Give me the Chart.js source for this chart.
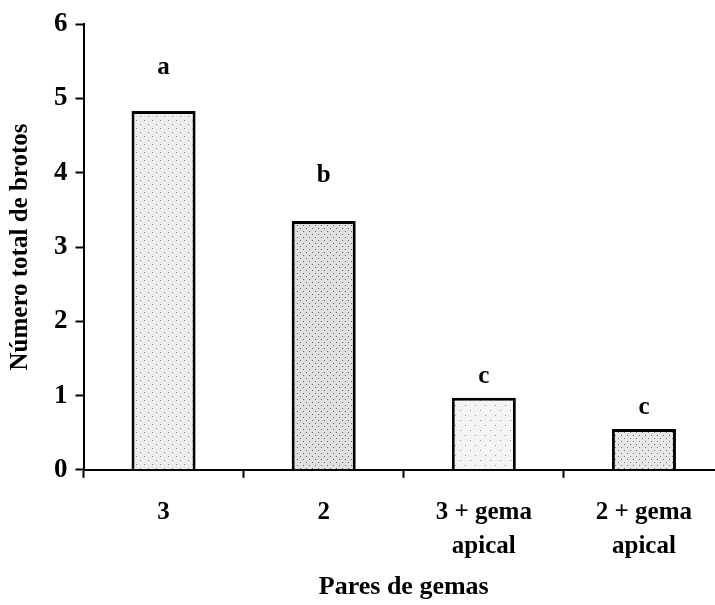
<!DOCTYPE html>
<html>
<head>
<meta charset="utf-8">
<script src="https://cdn.jsdelivr.net/npm/chart.js@4"></script>
<style>
    html, body { margin: 0; padding: 0; background: #fff; overflow: hidden; }
    #wrap { width: 728px; height: 605px; }
</style>
</head>
<body>
<div id="wrap"><canvas id="brotosChart"></canvas></div>
<script>
// data
const categories = [['3'], ['2'], ['3 + gema', 'apical'], ['2 + gema', 'apical']];
const brotos = [4.83, 3.35, 0.97, 0.55];
const letters = ['a', 'b', 'c', 'c'];
const letterHeights = [5.42, 3.96, 1.25, 0.84];
const yTicks = [0, 1, 2, 3, 4, 5, 6];

// stippled fills, the scan looks like dotted grey screens
function dotPattern(bg, dot, step) {
    const c = document.createElement('canvas');
    c.width = step * 2;
    c.height = step * 2;
    const g = c.getContext('2d');
    g.fillStyle = bg;
    g.fillRect(0, 0, c.width, c.height);
    g.fillStyle = dot;
    g.fillRect(0, 0, 1, 1);
    g.fillRect(step, step, 1, 1);
    return g.createPattern(c, 'repeat');
}

const fills = [
    dotPattern('#eeeeee', '#888888', 4),
    dotPattern('#e0e0e0', '#666666', 3),
    dotPattern('#f4f4f4', '#999999', 5),
    dotPattern('#e8e8e8', '#777777', 3),
];

const serif = '"Liberation Serif", "Times New Roman", serif';

// letters above the bars
const letterPlugin = {
    id: 'letters',
    afterDatasetsDraw(chart) {
        const ctx = chart.ctx;
        const meta = chart.getDatasetMeta(0);
        const yScale = chart.scales.y;
        ctx.save();
        ctx.font = 'bold 25px ' + serif;
        ctx.fillStyle = '#000';
        ctx.textAlign = 'center';
        ctx.textBaseline = 'middle';
        meta.data.forEach((bar, i) => {
            ctx.fillText(letters[i], bar.x, yScale.getPixelForValue(letterHeights[i]));
        });
        ctx.restore();
    }
};

const ctx = document.getElementById('brotosChart').getContext('2d');
new Chart(ctx, {
    type: 'bar',
    data: {
        labels: categories,
        datasets: [{
            data: brotos,
            backgroundColor: fills,
            borderColor: '#000',
            borderWidth: 3,
            categoryPercentage: 0.4,
            barPercentage: 1,
        }],
    },
    options: {
        responsive: true,
        maintainAspectRatio: false,
        animation: false,
        layout: { padding: { top: 12, right: 4, left: 6, bottom: 2 } },
        scales: {
            x: {
                offset: true,
                grid: {
                    offset: true,
                    drawOnChartArea: false,
                    drawTicks: true,
                    tickLength: 8,
                    tickColor: '#000',
                    tickWidth: 2,
                },
                border: { color: '#000', width: 2 },
                ticks: {
                    color: '#000',
                    font: { family: serif, size: 25, weight: 'bold', lineHeight: 1.36 },
                    padding: 18,
                    maxRotation: 0,
                },
                title: {
                    display: true,
                    text: 'Pares de gemas',
                    color: '#000',
                    font: { family: serif, size: 26, weight: 'bold' },
                    padding: { top: -10, bottom: 0 },
                },
            },
            y: {
                min: 0,
                max: 6,
                afterBuildTicks: axis => { axis.ticks = yTicks.map(v => ({ value: v })); },
                grid: {
                    drawOnChartArea: false,
                    drawTicks: true,
                    tickLength: 8,
                    tickColor: '#000',
                    tickWidth: 2,
                },
                border: { color: '#000', width: 2 },
                ticks: {
                    color: '#000',
                    font: { family: serif, size: 27, weight: 'bold' },
                    padding: 8,
                },
                title: {
                    display: true,
                    text: 'Número total de brotos',
                    color: '#000',
                    font: { family: serif, size: 25, weight: 'bold' },
                    padding: { top: 0, bottom: 10 },
                },
            },
        },
        plugins: {
            legend: { display: false },
            tooltip: { enabled: false },
        },
    },
    plugins: [letterPlugin],
});
</script>
</body>
</html>
